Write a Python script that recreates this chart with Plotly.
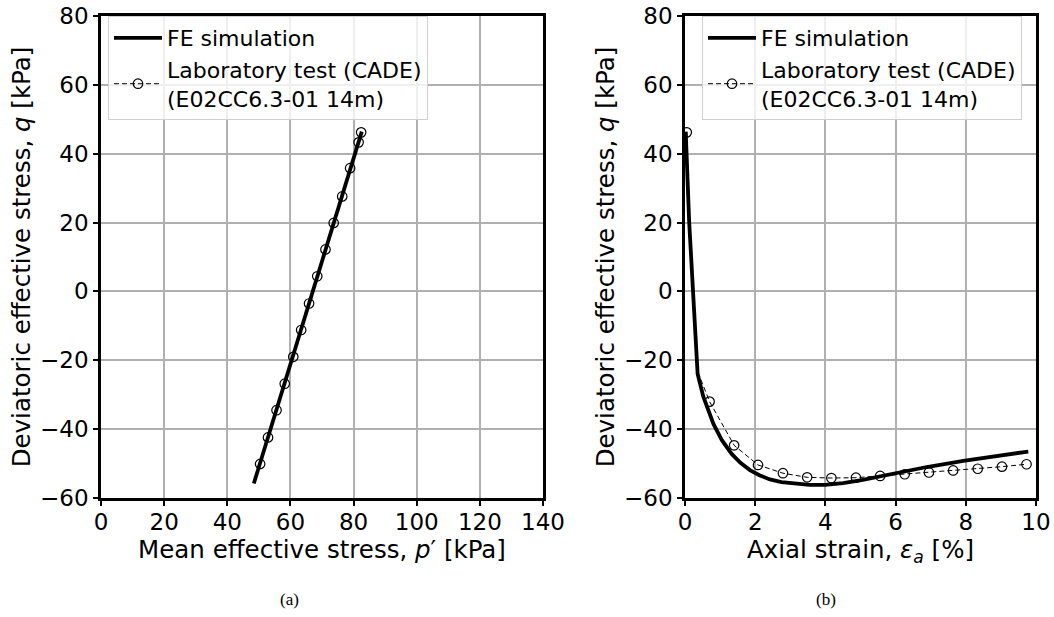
import plotly.graph_objects as go

# ---------------- data ----------------
# (a) stress path
p_fe = [48.4, 53.0, 58.0, 63.0, 68.0, 73.0, 78.0, 82.6]
q_fe_a = [-55.8, -42.0, -27.1, -12.2, 2.8, 17.7, 32.6, 46.4]

p_lab = [82.4, 81.6, 78.9, 76.4, 73.7, 71.1, 68.5, 65.9, 63.4, 60.9, 58.2, 55.6, 52.9, 50.4]
q_lab_a = [46.2, 43.3, 35.8, 27.6, 19.9, 12.2, 4.4, -3.5, -11.2, -19.0, -26.8, -34.5, -42.4, -50.1]

# (b) stress-strain
eps_fe = [0.02, 0.12, 0.24, 0.36, 0.52, 0.81, 1.05, 1.33, 1.58, 1.85, 2.12, 2.42, 2.75, 3.13,
          3.55, 3.99, 4.50, 5.03, 5.56, 6.26, 6.89, 7.93, 8.88, 9.78]
q_fe_b = [46.4, 20.0, -2.0, -24.0, -30.5, -38.5, -43.2, -47.2, -49.8, -51.9, -53.4, -54.6, -55.4, -55.9,
          -56.2, -56.2, -55.7, -54.8, -53.7, -52.3, -51.0, -49.2, -47.7, -46.5]

eps_lab_line = [0.05, 0.14, 0.26, 0.37, 0.70, 1.40, 2.08, 2.79, 3.48, 4.17, 4.87, 5.56,
                6.26, 6.95, 7.64, 8.34, 9.03, 9.73]
q_lab_line = [46.2, 17.0, -3.0, -23.5, -32.0, -44.7, -50.4, -52.8, -54.0, -54.2, -54.1, -53.6,
              -53.1, -52.6, -52.0, -51.5, -50.9, -50.2]

eps_lab_mk = [0.05, 0.70, 1.40, 2.08, 2.79, 3.48, 4.17, 4.87, 5.56, 6.26, 6.95, 7.64, 8.34, 9.03, 9.73]
q_lab_mk = [46.2, -32.0, -44.7, -50.4, -52.8, -54.0, -54.2, -54.1, -53.6, -53.1, -52.6, -52.0,
            -51.5, -50.9, -50.2]

x_ticks_a = [0, 20, 40, 60, 80, 100, 120, 140]
x_ticks_b = [0, 2, 4, 6, 8, 10]
y_ticks = [-60, -40, -20, 0, 20, 40, 60, 80]

FE_NAME = "FE simulation"
LAB_NAME = "Laboratory test (CADE)<br>(E02CC6.3-01 14m)"

FONT = "DejaVu Sans"
FS_TICK = 23
FS_TITLE = 24.5
FS_LEG = 22
FE_W = 3.8
LAB_DASH = "5px,3px"
MK = dict(symbol="circle-open", size=9.5, color="black", line=dict(width=1.2, color="black"))

fig = go.Figure()

# ---- panel (a) ----
fig.add_trace(go.Scatter(x=p_fe, y=q_fe_a, mode="lines", name=FE_NAME,
                         line=dict(color="black", width=FE_W),
                         xaxis="x", yaxis="y", legend="legend"))
fig.add_trace(go.Scatter(x=p_lab, y=q_lab_a, mode="lines+markers", name=LAB_NAME,
                         line=dict(color="black", width=1, dash=LAB_DASH), marker=MK,
                         xaxis="x", yaxis="y", legend="legend"))

# ---- panel (b) ----
fig.add_trace(go.Scatter(x=eps_fe, y=q_fe_b, mode="lines", name=FE_NAME,
                         line=dict(color="black", width=FE_W),
                         xaxis="x2", yaxis="y2", legend="legend2"))
fig.add_trace(go.Scatter(x=eps_lab_line, y=q_lab_line, mode="lines", showlegend=False,
                         line=dict(color="black", width=1, dash=LAB_DASH),
                         xaxis="x2", yaxis="y2", legend="legend2"))
fig.add_trace(go.Scatter(x=eps_lab_mk, y=q_lab_mk, mode="markers", showlegend=False,
                         marker=MK, xaxis="x2", yaxis="y2", legend="legend2"))
# legend entry for the lab series in panel (b)
fig.add_trace(go.Scatter(x=[None], y=[None], mode="lines+markers", name=LAB_NAME,
                         line=dict(color="black", width=1, dash=LAB_DASH), marker=MK,
                         xaxis="x2", yaxis="y2", legend="legend2"))

axis_common = dict(
    showgrid=True, gridcolor="#b0b0b0", gridwidth=1.5,
    showline=True, linecolor="black", linewidth=2.5, mirror=True,
    ticks="outside", ticklen=5, tickwidth=1.5, tickcolor="black",
    tickfont=dict(family=FONT, size=FS_TICK, color="black"),
    zeroline=False, automargin=False,
)

W, H = 1054, 617
ybot, ytop = (H - 498) / H, (H - 16) / H

leg_common = dict(xanchor="left", yanchor="top", itemwidth=48,
                  bgcolor="rgba(255,255,255,0.8)", bordercolor="#d0d0d0", borderwidth=1,
                  font=dict(family=FONT, size=FS_LEG, color="black"), tracegroupgap=0)

fig.update_layout(
    width=W, height=H,
    margin=dict(l=0, r=0, t=0, b=0, autoexpand=False),
    paper_bgcolor="white", plot_bgcolor="white",
    font=dict(family=FONT, size=FS_TICK, color="black"),
    xaxis=dict(domain=[101 / W, 543 / W], range=[0, 140], tickvals=x_ticks_a, anchor="y",
               ticklabelstandoff=-3,
               title=dict(text="Mean effective stress, <i>p</i>′ [kPa]", standoff=1,
                          font=dict(family=FONT, size=FS_TITLE)),
               **axis_common),
    yaxis=dict(domain=[ybot, ytop], range=[-60, 80], tickvals=y_ticks, anchor="x",
               title=dict(text="Deviatoric effective stress, <i>q</i> [kPa]", standoff=3,
                          font=dict(family=FONT, size=FS_TITLE)),
               **axis_common),
    xaxis2=dict(domain=[685 / W, 1036 / W], range=[0, 10], tickvals=x_ticks_b, anchor="y2",
                ticklabelstandoff=-3,
                title=dict(text="Axial strain, <i>ε<sub>a</sub></i> [%]", standoff=1,
                           font=dict(family=FONT, size=FS_TITLE)),
                **axis_common),
    yaxis2=dict(domain=[ybot, ytop], range=[-60, 80], tickvals=y_ticks, anchor="x2",
                title=dict(text="Deviatoric effective stress, <i>q</i> [kPa]", standoff=3,
                           font=dict(family=FONT, size=FS_TITLE)),
                **axis_common),
    legend=dict(x=108 / W, y=1 - 16 / H, **leg_common),
    legend2=dict(x=702 / W, y=1 - 16 / H, **leg_common),
    annotations=[
        dict(text="(a)", x=289 / W, y=1 - 599 / H, xref="paper", yref="paper",
             xanchor="center", yanchor="middle", showarrow=False,
             font=dict(family="Liberation Serif", size=17, color="black")),
        dict(text="(b)", x=826 / W, y=1 - 599 / H, xref="paper", yref="paper",
             xanchor="center", yanchor="middle", showarrow=False,
             font=dict(family="Liberation Serif", size=17, color="black")),
    ],
)

fig.write_html("out.html")
